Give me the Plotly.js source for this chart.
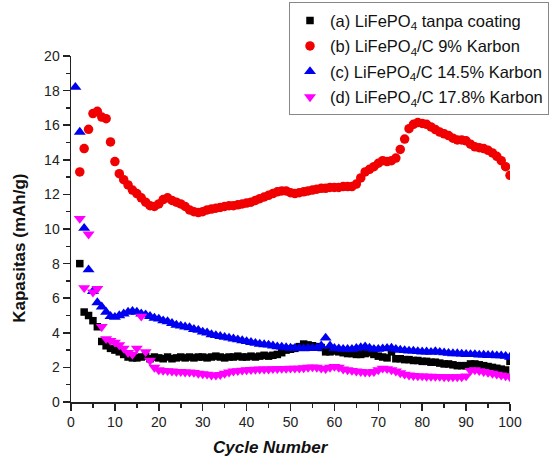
<!DOCTYPE html>
<html>
<head>
<meta charset="utf-8">
<script src="https://cdn.plot.ly/plotly-3.0.1.min.js"></script>
<style>html,body{margin:0;padding:0;background:#fff;}#chart{width:558px;height:462px;}</style>
</head>
<body>
<div id="chart"></div>
<script>
// Cycle numbers for each series
const cyclesA = Array.from({length: 99}, (_, i) => i + 2);   // 2..100
const cyclesB = Array.from({length: 99}, (_, i) => i + 2);   // 2..100
const cyclesC = Array.from({length: 100}, (_, i) => i + 1);  // 1..100
const cyclesD = Array.from({length: 99}, (_, i) => i + 2);   // 2..100

// (a) LiFePO4 tanpa coating, cycles 2..100
const capA = [8.0,5.2,5.0,4.7,4.35,3.5,3.25,3.1,3.0,2.9,
  2.75,2.6,2.55,2.55,2.6,2.65,2.5,2.6,2.55,2.5,
  2.6,2.5,2.55,2.6,2.55,2.6,2.55,2.6,2.6,2.55,
  2.6,2.65,2.6,2.55,2.6,2.6,2.65,2.6,2.6,2.65,
  2.6,2.65,2.7,2.65,2.7,2.75,2.85,3.0,3.05,3.1,
  3.2,3.35,3.3,3.25,3.2,3.15,2.9,2.9,2.95,2.9,
  2.85,2.8,2.8,2.75,2.75,2.8,2.85,2.75,2.65,2.6,
  2.55,2.9,2.5,2.5,2.45,2.45,2.4,2.4,2.35,2.35,
  2.3,2.3,2.25,2.2,2.2,2.15,2.1,2.1,2.1,2.2,
  2.2,2.15,2.1,2.05,2.0,1.95,1.9,1.85,2.35];

// (b) LiFePO4/C 9% Karbon, cycles 2..100
const capB = [13.3,14.65,15.76,16.67,16.8,16.47,16.38,15.03,13.9,13.2,
  12.85,12.55,12.25,12.05,11.8,11.55,11.35,11.3,11.45,11.7,
  11.8,11.65,11.55,11.45,11.3,11.1,11.0,10.95,11.0,11.1,
  11.15,11.2,11.25,11.3,11.35,11.35,11.4,11.45,11.5,11.55,
  11.65,11.75,11.85,11.95,12.05,12.15,12.2,12.2,12.1,12.05,
  12.1,12.15,12.2,12.25,12.3,12.35,12.35,12.4,12.4,12.4,
  12.45,12.45,12.45,12.6,12.95,13.3,13.45,13.6,13.8,13.95,
  13.9,13.95,14.1,14.6,15.2,15.8,16.05,16.15,16.1,16.05,
  15.9,15.75,15.6,15.5,15.4,15.25,15.15,15.15,15.1,14.9,
  14.75,14.7,14.65,14.55,14.4,14.2,13.95,13.6,13.1];

// (c) LiFePO4/C 14.5% Karbon, cycles 1..100
const capC = [18.2,15.6,10.05,7.65,6.4,5.75,5.5,5.2,4.95,4.9,
  5.0,5.1,5.2,5.25,5.2,5.1,5.05,4.95,4.85,4.8,
  4.7,4.65,4.55,4.45,4.4,4.35,4.3,4.2,4.15,4.05,
  4.0,3.9,3.85,3.8,3.75,3.7,3.65,3.6,3.55,3.5,
  3.45,3.4,3.35,3.32,3.3,3.25,3.2,3.18,3.15,3.12,
  3.1,3.1,3.08,3.1,3.1,3.12,3.25,3.7,3.25,3.1,
  3.08,3.05,3.05,3.05,3.1,3.15,3.2,3.12,3.05,3.05,
  3.08,3.1,3.12,3.05,3.0,2.98,2.95,2.95,2.92,2.9,
  2.9,2.88,2.92,2.88,2.85,2.82,2.8,2.8,2.78,2.76,
  2.75,2.75,2.72,2.72,2.7,2.7,2.68,2.68,2.65,2.6];

// (d) LiFePO4/C 17.8% Karbon, cycles 2..100
const capD = [10.6,6.6,9.7,6.35,6.55,4.35,3.65,3.55,3.45,3.3,
  3.1,2.85,2.75,3.1,4.95,2.9,2.4,2.0,1.85,1.82,
  1.8,1.78,1.75,1.75,1.72,1.72,1.7,1.65,1.62,1.6,
  1.55,1.55,1.58,1.65,1.72,1.78,1.8,1.83,1.85,1.87,
  1.88,1.9,1.9,1.9,1.92,1.92,1.93,1.93,1.95,1.95,
  1.95,1.97,2.0,2.02,2.0,1.95,1.92,2.0,2.05,2.0,
  1.9,1.85,1.82,1.78,1.75,1.72,1.72,1.75,1.85,1.95,
  1.92,1.85,1.78,1.68,1.6,1.55,1.52,1.5,1.5,1.48,
  1.48,1.47,1.47,1.45,1.45,1.45,1.45,1.45,1.5,1.82,
  1.85,1.8,1.75,1.7,1.65,1.6,1.55,1.5,1.45];

const names = [
  '(a) LiFePO<sub>4</sub> tanpa coating',
  '(b) LiFePO<sub>4</sub>/C 9% Karbon',
  '(c) LiFePO<sub>4</sub>/C 14.5% Karbon',
  '(d) LiFePO<sub>4</sub>/C 17.8% Karbon'
];
const xTickVals = [0,10,20,30,40,50,60,70,80,90,100];
const yTickVals = [0,2,4,6,8,10,12,14,16,18,20];
const xTitle = 'Cycle Number';
const yTitle = 'Kapasitas (mAh/g)';

const traces = [
  {x: cyclesA, y: capA, name: names[0], legendgroup:'a', type:'scatter', mode:'markers',
   marker:{symbol:'square', size:7.5, color:'#000000'}},
  {x: cyclesB, y: capB, name: names[1], legendgroup:'b', type:'scatter', mode:'markers',
   marker:{symbol:'circle', size:9.5, color:'#f00000'}},
  {x: cyclesC, y: capC, name: names[2], legendgroup:'c', type:'scatter', mode:'markers',
   marker:{symbol:'triangle-up', size:10.5, color:'#0000f0'}},
  {x: cyclesD, y: capD, name: names[3], legendgroup:'d', type:'scatter', mode:'markers',
   marker:{symbol:'triangle-down', size:10.5, color:'#ff00ff'}}
];

const fam = 'Liberation Sans, Arial, sans-serif';
const tickFont = {family:fam, size:14, color:'#222'};

const layout = {
  width:558, height:462,
  margin:{l:71, r:48, t:56, b:60, autoexpand:false},
  paper_bgcolor:'#fff', plot_bgcolor:'#fff',
  showlegend:true,
  legend:{
    x:(289-71)/439, xanchor:'left', y:(401.7-2)/346, yanchor:'top',
    bordercolor:'#888', borderwidth:1, bgcolor:'#fff',
    font:{family:fam, size:16.5, color:'#111'},
    tracegroupgap:1, itemwidth:30
  },
  xaxis:{
    range:[0,100], tickvals:xTickVals, ticktext:xTickVals.map(String),
    showgrid:false, zeroline:false, showline:true, linecolor:'#222', linewidth:1.5,
    ticks:'outside', ticklen:7, tickwidth:1.5, tickcolor:'#222',
    minor:{dtick:5, tick0:0, ticks:'outside', ticklen:4, tickwidth:1.5, tickcolor:'#222', showgrid:false},
    tickfont:tickFont
  },
  yaxis:{
    range:[0,20], tickvals:yTickVals, ticktext:yTickVals.map(String),
    showgrid:false, zeroline:false, showline:true, linecolor:'#222', linewidth:1.5,
    ticks:'outside', ticklen:7, tickwidth:1.5, tickcolor:'#222',
    minor:{dtick:1, tick0:0, ticks:'outside', ticklen:4, tickwidth:1.5, tickcolor:'#222', showgrid:false},
    tickfont:tickFont
  },
  annotations:[
    {text:'<b><i>'+xTitle+'</i></b>', xref:'paper', yref:'paper',
     x:(271-71)/439, y:(401.7-447)/346, xanchor:'center', yanchor:'middle',
     showarrow:false, font:{family:fam, size:17, color:'#111'}},
    {text:'<b>'+yTitle+'</b>', xref:'paper', yref:'paper', textangle:-90,
     x:(20-71)/439, y:(401.7-248.5)/346, xanchor:'center', yanchor:'middle',
     showarrow:false, font:{family:fam, size:17, color:'#111'}}
  ]
};

Plotly.newPlot('chart', traces, layout, {displayModeBar:false, staticPlot:true});
</script>
</body>
</html>
